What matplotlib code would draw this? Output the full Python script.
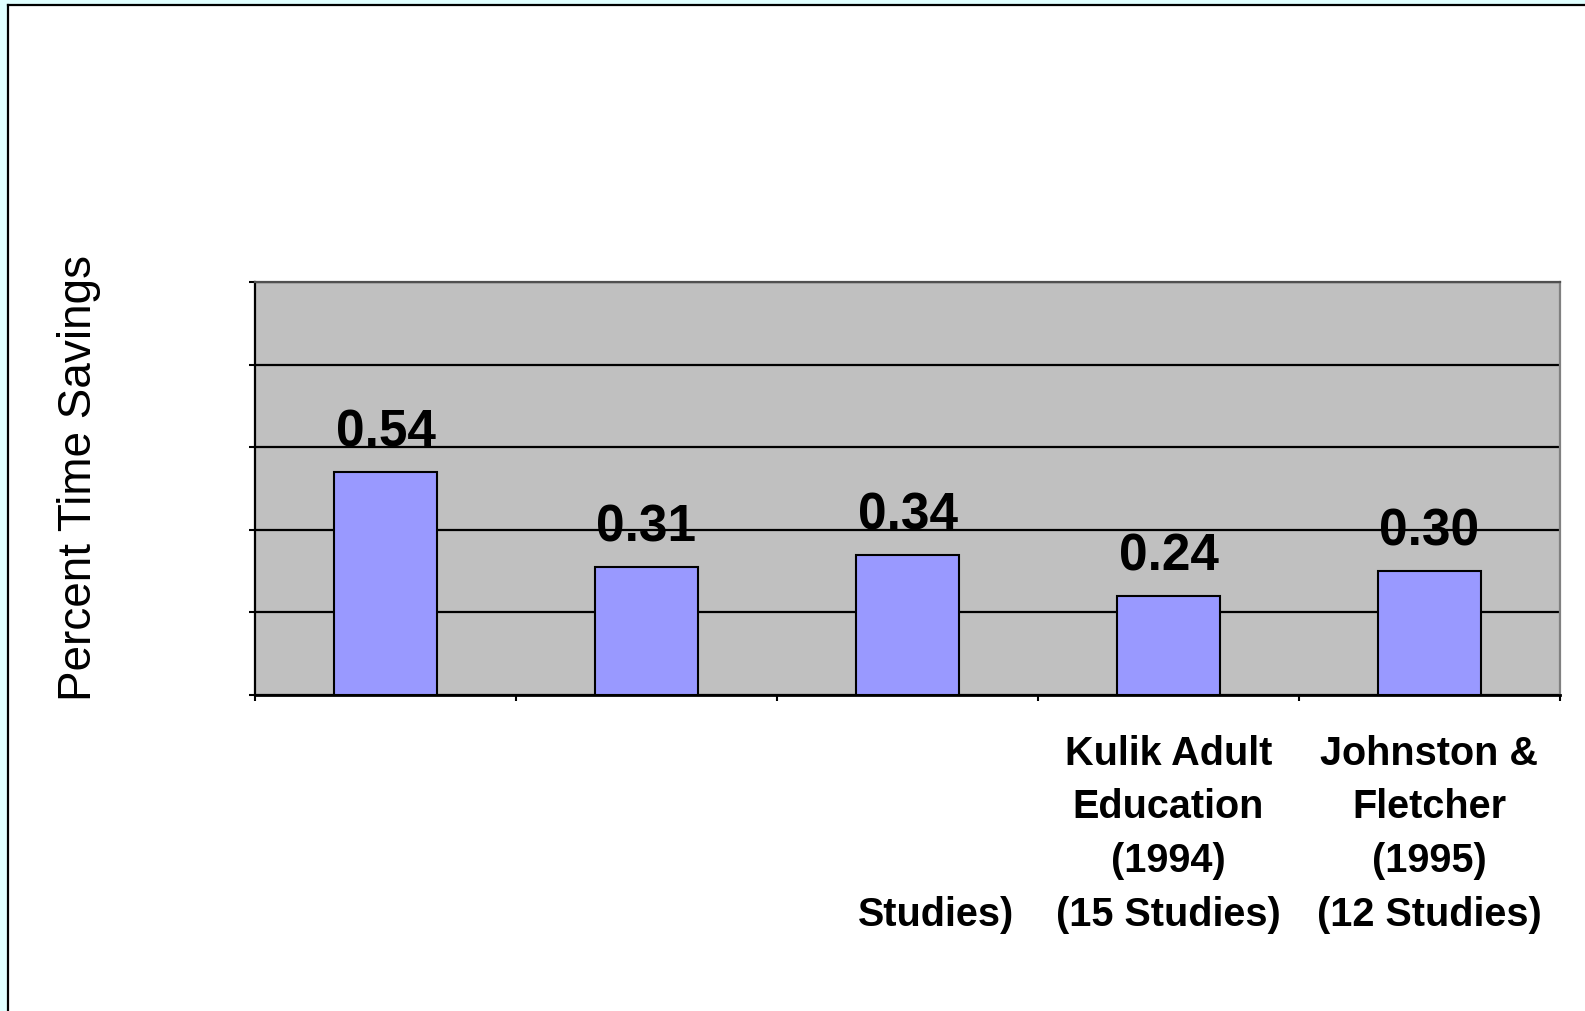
import matplotlib
matplotlib.use("Agg")
import matplotlib.pyplot as plt
from matplotlib import font_manager
from matplotlib.patches import Rectangle
from matplotlib.lines import Line2D

# Chart data
categories = ["", "", "", "Kulik Adult\nEducation\n(1994)\n(15 Studies)",
              "Johnston &\nFletcher\n(1995)\n(12 Studies)"]
partial_label = "Studies)"          # visible remnant of the third category label
values = [0.54, 0.31, 0.34, 0.24, 0.30]
y_ticks = [0.0, 0.2, 0.4, 0.6, 0.8, 1.0]
y_label = "Percent Time Savings"

installed = {f.name for f in font_manager.fontManager.ttflist}
narrow = "Liberation Sans Narrow" if "Liberation Sans Narrow" in installed else "Liberation Sans"
value_size = 41 if narrow == "Liberation Sans Narrow" else 37

W, H = 1585, 1012
fig = plt.figure(figsize=(W / 100, H / 100), dpi=100)
fig.patch.set_facecolor("#E0FFFF")

# White panel with a dark border on the left and top edges
bx, by = 8 / W, 6 / H
fig.patches.append(Rectangle((bx, 0), 1 - bx, 1 - by, transform=fig.transFigure,
                             facecolor="white", edgecolor="none", zorder=-10))
fig.lines.append(Line2D([bx, bx], [0, 1 - by], transform=fig.transFigure,
                        color="black", lw=1.6))
fig.lines.append(Line2D([bx, 1], [1 - by, 1 - by], transform=fig.transFigure,
                        color="black", lw=1.6))

ax = fig.add_axes([255 / W, 1 - 696 / H, (1560 - 255) / W, (696 - 283) / H])
ax.set_facecolor("#C0C0C0")

x = list(range(len(values)))
bars = ax.bar(x, values, width=0.395, color="#9999FF", edgecolor="black",
              linewidth=1.5, zorder=2)

ax.set_xlim(-0.5, len(values) - 0.5)
ax.set_ylim(y_ticks[0], y_ticks[-1])
ax.set_yticks(y_ticks)
ax.set_yticklabels([])
ax.yaxis.grid(True, color="black", linewidth=1.6)
ax.set_axisbelow(True)
ax.tick_params(axis="y", direction="out", length=4, width=1.5, color="black")

# Category labels at bar centres, boundary ticks between categories
label_style = dict(fontfamily="Liberation Sans", fontweight="bold",
                   fontsize=28.5, linespacing=1.52)
ax.set_xticks(x)
ax.set_xticklabels(categories, **label_style)
ax.tick_params(axis="x", which="major", length=0, pad=28)
ax.set_xticks([i - 0.5 for i in range(len(values) + 1)], minor=True)
ax.tick_params(axis="x", which="minor", direction="out", length=4, width=1.5,
               color="black")

ax.annotate("\n\n\n" + partial_label, xy=(2.408, 0), xycoords=("data", "axes fraction"),
            xytext=(0, -28), textcoords="offset points", ha="right", va="top",
            multialignment="right", annotation_clip=False, **label_style)

for side, col, lw in [("left", "black", 1.6), ("bottom", "black", 2.0),
                      ("top", "#505050", 1.6), ("right", "#808080", 1.6)]:
    ax.spines[side].set_color(col)
    ax.spines[side].set_linewidth(lw)

# Value labels above each bar
for xi, v in zip(x, values):
    ax.annotate(f"{v:.2f}", xy=(xi, v), xytext=(0, 19), textcoords="offset points",
                ha="center", va="baseline", fontfamily=narrow, fontweight="bold",
                fontsize=value_size, zorder=5)

fig.text(79 / W, 1 - 478 / H, y_label, rotation=90, ha="center", va="center",
         fontfamily="Liberation Sans", fontsize=33)

fig.savefig("out.png", dpi=100, facecolor=fig.get_facecolor())
